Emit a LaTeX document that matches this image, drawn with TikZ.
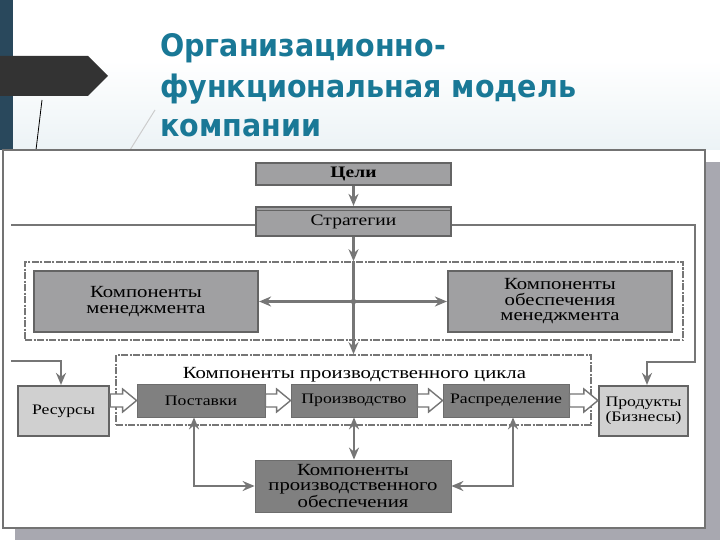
\documentclass[tikz,border=0pt]{standalone}
\usepackage{fontspec}
\usetikzlibrary{arrows.meta,calc}
\newfontfamily\dg[FakeStretch=1.22]{Liberation Serif}
\newfontfamily\ttlf[FakeStretch=0.92]{DejaVu Sans}
\definecolor{teal1}{RGB}{25,120,150}
\definecolor{barc}{RGB}{41,72,92}
\definecolor{boxg}{RGB}{160,160,162}
\definecolor{darkg}{RGB}{128,128,128}
\definecolor{lightg}{RGB}{208,208,208}
\definecolor{edgeg}{RGB}{100,100,100}
\definecolor{lineg}{RGB}{118,118,118}
\definecolor{shadowg}{RGB}{168,168,176}
\definecolor{hdrbg}{RGB}{236,243,246}
\newcommand\blockarr[3]{\draw[barrowst] let \p1=(#1.east), \p2=(#2.west), \p3=(#3) in
  (\x1,\y3+6.5pt) -- (\x2-14pt,\y3+6.5pt) -- (\x2-14pt,\y3+11.5pt) -- (\x2,\y3)
  -- (\x2-14pt,\y3-11.5pt) -- (\x2-14pt,\y3-6.5pt) -- (\x1,\y3-6.5pt) -- cycle;}
\begin{document}
\begin{tikzpicture}[x=1pt,y=-1pt,
  gbox/.style={draw=edgeg, line width=2.2pt, fill=boxg, inner sep=0pt, align=center, text=black},
  dbox/.style={draw=darkg!85!black, line width=0.8pt, fill=darkg, inner sep=0pt, align=center, text=black},
  lbox/.style={draw=edgeg, line width=2.2pt, fill=lightg, inner sep=0pt, align=center, text=black},
  dashbox/.style={draw=lineg, line width=1.6pt, dash pattern=on 7pt off 1.5pt on 2pt off 1.5pt, inner sep=0pt},
  plain/.style={draw=lineg, line width=2.3pt},
  conn/.style={draw=lineg, line width=2.3pt, -{Stealth[length=12pt,width=10pt,inset=4pt]}},
  dconn/.style={draw=lineg, line width=2.3pt, {Stealth[length=12pt,width=10pt,inset=4pt]}-{Stealth[length=12pt,width=10pt,inset=4pt]}},
  barrowst/.style={draw=lineg, fill=white, line width=1.4pt},
  ttl/.style={anchor=base west, inner sep=0pt, text=teal1, font=\ttlf\bfseries\fontsize{31}{31}\selectfont},
  f17/.style={font=\dg\fontsize{17}{15.5}\selectfont},
  f16/.style={font=\dg\fontsize{16}{15}\selectfont},
  f14/.style={font=\dg\fontsize{14.5}{15}\selectfont}
]
\useasboundingbox (0,0) rectangle (720,540);
% slide background
\fill[white] (0,0) rectangle (720,540);
\shade[top color=white, bottom color=hdrbg] (0,60) rectangle (720,150);
\fill[barc] (0,0) rectangle (13,150);
\fill[black!80] (0,56) -- (88,56) -- (108,76) -- (88,96) -- (0,96) -- cycle;
\draw[black, line width=0.8pt] (42,100) -- (36,150);
\draw[black!20, line width=1pt] (155,110) -- (130,150);
% title
\node[ttl] (t1) at (160,57) {Организационно-};
\node[ttl] (t2) at (160,98) {функциональная модель};
\node[ttl] (t3) at (160,137) {компании};
% picture frame
\fill[shadowg] (15,162) rectangle (720,540);
\draw[draw=black!55, fill=white, line width=1.5pt] (3,150) rectangle (705,528);

% dashed groups
\node[dashbox, minimum width=658pt, minimum height=78pt] (d1) at (354,301) {};
\node[dashbox, minimum width=475pt, minimum height=70pt] (d2) at (353.5,390) {};

% boxes
\node[gbox, f16, minimum width=195pt, minimum height=22pt] (celi) at (353.5,174) {\bfseries Цели};
\node[gbox, f16, minimum width=195pt, minimum height=29pt] (strat) at (353.5,221.5) {\raisebox{-2pt}{Стратегии}};
\draw[edgeg, line width=1pt] ([yshift=-5pt]strat.north west) -- ([yshift=-5pt]strat.north east);
\node[gbox, f17, minimum width=224pt, minimum height=61pt] (man) at (146,301.5) {Компоненты\\менеджмента};
\node[gbox, f17, minimum width=224pt, minimum height=61pt] (obesp) at (560,301.5) {Компоненты\\обеспечения\\менеджмента};
\node[anchor=base, f17, inner sep=0pt] (lab) at (354.5,378) {Компоненты производственного цикла};
\node[dbox, f14, minimum width=128pt, minimum height=33pt] (post) at (201,400.5) {Поставки};
\node[dbox, f14, minimum width=126pt, minimum height=33pt] (proizv) at (354,400.5) {Производство};
\node[dbox, f14, minimum width=126pt, minimum height=33pt] (raspr) at (506,400.5) {Распределение};
\node[lbox, f14, minimum width=91pt, minimum height=50pt] (res) at (63.5,411) {Ресурсы};
\node[lbox, f14, minimum width=89pt, minimum height=50pt] (prod) at (643.5,411) {Продукты\\(Бизнесы)};
\node[dbox, f17, minimum width=196pt, minimum height=52pt] (bot) at (353,486) {Компоненты\\производственного\\обеспечения};

% block arrows
\blockarr{res}{post}{post}
\blockarr{post}{proizv}{post}
\blockarr{proizv}{raspr}{post}
\blockarr{raspr}{prod}{post}

% connectors
\draw[conn] (celi.south) -- (strat.north);
\draw[conn] (strat.south) -- (strat.south |- d1.north);
\draw[conn] (strat.south |- d1.north) -- (strat.south |- d2.north);
\draw[dconn] (man.east) -- (obesp.west);
\coordinate (jn) at (strat.south |- man.east);
\fill[lineg] (jn) circle (2.8pt);

\coordinate (lt) at (11,225);
\draw[plain] (lt) -- (lt -| strat.west);
\coordinate (rt) at (695,225);
\coordinate (rb) at (695,362);
\coordinate (pk) at (647,362);
\draw[conn] (strat.east |- rt) -- (rt) -- (rb) -- (pk) -- (pk |- prod.north);
\coordinate (lb) at (11,361);
\coordinate (lr) at (61,361);
\draw[conn] (lb) -- (lr) -- (lr |- res.north);

\draw[dconn] ([xshift=-7pt]post.south) |- (bot.west);
\draw[dconn] ([xshift=7pt]raspr.south) |- (bot.east);
\draw[dconn] (proizv.south) -- (proizv.south |- bot.north);
\end{tikzpicture}
\end{document}
